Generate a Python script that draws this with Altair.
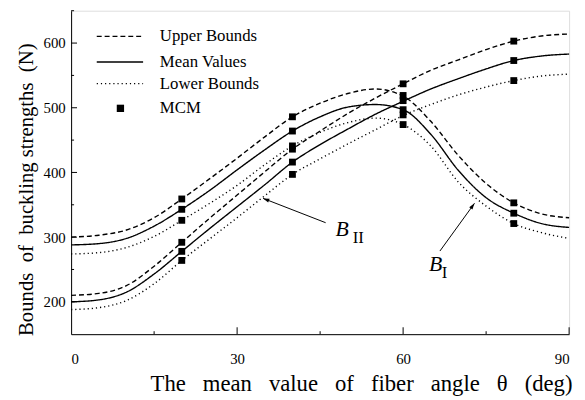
import altair as alt
import pandas as pd

# ---------------- data ----------------
theta = [0, 5, 10, 15, 20, 25, 30, 35, 40, 45, 50, 55, 60, 65, 70, 75, 80, 85, 90]

bI_upper = [300, 303, 311, 330, 359, 390, 422, 455, 486, 507, 522, 529, 518, 479, 426, 383, 353, 336, 330]
bI_mean  = [288, 290, 298, 317, 343, 372, 404, 435, 464, 486, 501, 505, 497, 459, 403, 361, 337, 321, 315]
bI_lower = [274, 276, 284, 301, 326, 352, 380, 412, 441, 462, 477, 484, 474, 441, 385, 348, 321, 307, 298]

bII_upper = [210, 213, 225, 255, 292, 329, 365, 401, 436, 464, 491, 515, 537, 558, 574, 590, 603, 611, 614]
bII_mean  = [200, 203, 215, 243, 278, 313, 347, 381, 416, 443, 467, 490, 510, 529, 545, 560, 573, 580, 583]
bII_lower = [188, 191, 202, 228, 264, 297, 330, 364, 397, 421, 444, 466, 488, 505, 520, 532, 542, 549, 552]

mcm_theta = [20, 40, 60, 80]
mcm_bI_upper = [359, 486, 519, 353]
mcm_bI_mean = [343, 464, 497, 337]
mcm_bI_lower = [326, 441, 474, 321]
mcm_bII_upper = [292, 436, 537, 603]
mcm_bII_mean = [278, 416, 511, 573]
mcm_bII_lower = [264, 397, 489, 542]

y_major = [200, 300, 400, 500, 600]
y_minor = [250, 350, 450, 550, 650]
x_major = [30, 60, 90]
x_minor = [15, 45, 75]

bounds = ["Upper Bounds", "Mean Values", "Lower Bounds"]
legend_labels = ["Upper Bounds", "Mean Values", "Lower Bounds", "MCM"]

# ---------------- tables ----------------
rows = []
for fam, series in [("BI", [bI_upper, bI_mean, bI_lower]), ("BII", [bII_upper, bII_mean, bII_lower])]:
    for b, vals in zip(bounds, series):
        for t, v in zip(theta, vals):
            rows.append({"theta": t, "value": v, "family": fam, "bound": b})
lines_df = pd.DataFrame(rows)

mrows = []
for vals in [mcm_bI_upper, mcm_bI_mean, mcm_bI_lower, mcm_bII_upper, mcm_bII_mean, mcm_bII_lower]:
    for t, v in zip(mcm_theta, vals):
        mrows.append({"theta": t, "value": v})
mcm_df = pd.DataFrame(mrows)

W, H = 505, 328
FONT = "Liberation Serif"
NB = "\u00a0"
xtitle = (" " + NB + NB).join(["The", "mean", "value", "of", "fiber", "angle", "θ", "(deg)"])
ytitle = "Bounds" + NB + " of" + NB + " buckling strengths" + NB + " (N)"

xs = alt.Scale(domain=[0, 90], nice=False, zero=False)
ys = alt.Scale(domain=[150, 650], nice=False, zero=False)

X = alt.X("theta:Q", scale=xs, axis=alt.Axis(
    values=[0, 30, 60, 90], ticks=False, grid=False, domainColor="black", domainWidth=1,
    labelFont=FONT, labelFontSize=15, labelColor="black", labelPadding=18,
    title=xtitle,
    titleFont=FONT, titleFontSize=23, titleFontWeight="normal", titleColor="black",
    titleX=294, titleY=57, titleBaseline="alphabetic", titleAlign="center"))
Y = alt.Y("value:Q", scale=ys, axis=alt.Axis(
    values=y_major, ticks=False, grid=False, domainColor="black", domainWidth=1,
    labelFont=FONT, labelFontSize=15, labelColor="black", labelPadding=6,
    title=ytitle,
    titleFont=FONT, titleFontSize=21, titleFontWeight="normal", titleColor="black",
    titleX=-39, titleY=181, titleAngle=270, titleBaseline="alphabetic", titleAlign="center"))

lines = alt.Chart(lines_df).mark_line(color="black", interpolate="monotone").encode(
    x=X, y=Y,
    detail="family:N",
    strokeDash=alt.StrokeDash("bound:N", scale=alt.Scale(domain=bounds, range=[[5, 3], [1, 0], [1.2, 3]]), legend=None),
    strokeWidth=alt.StrokeWidth("bound:N", scale=alt.Scale(domain=bounds, range=[1.4, 1.4, 1.3]), legend=None),
)

markers = alt.Chart(mcm_df).mark_square(color="black", size=48, opacity=1).encode(
    x=alt.X("theta:Q", scale=xs), y=alt.Y("value:Q", scale=ys))

# inward ticks
ymaj = alt.Chart(pd.DataFrame({"v": y_major})).mark_rule(color="black").encode(
    y=alt.Y("v:Q", scale=ys), x=alt.value(0), x2=alt.value(6))
ymin = alt.Chart(pd.DataFrame({"v": y_minor})).mark_rule(color="black").encode(
    y=alt.Y("v:Q", scale=ys), x=alt.value(0), x2=alt.value(3))
xmaj = alt.Chart(pd.DataFrame({"v": x_major})).mark_rule(color="black").encode(
    x=alt.X("v:Q", scale=xs), y=alt.value(H), y2=alt.value(H - 7))
xmin = alt.Chart(pd.DataFrame({"v": x_minor})).mark_rule(color="black").encode(
    x=alt.X("v:Q", scale=xs), y=alt.value(H), y2=alt.value(H - 3))

# arrows and labels
arrow_df = pd.DataFrame({
    "x": [46.0, 66.65], "y": [322.3, 278.5],
    "x2": [34.7, 72.9], "y2": [359.9, 352.3],
    "ang": [291.6, 35.9],
})
arrow_lines = alt.Chart(arrow_df).mark_rule(color="black", strokeWidth=1).encode(
    x=alt.X("x:Q", scale=xs), y=alt.Y("y:Q", scale=ys),
    x2="x2:Q", y2="y2:Q")
arrow_heads = alt.Chart(arrow_df).mark_point(
    shape="M0,0L0.32,1L-0.32,1Z", filled=True, color="black", size=160, opacity=1).encode(
    x=alt.X("x2:Q", scale=xs), y=alt.Y("y2:Q", scale=ys), angle=alt.Angle("ang:Q", scale=None))

b_df = pd.DataFrame({"x": [47.8, 64.7], "y": [301.4, 248.0], "t": ["B", "B"]})
sub_df = pd.DataFrame({"x": [50.9, 67.0], "y": [291.5, 236.4], "t": ["II", "I"]})
b_text = alt.Chart(b_df).mark_text(font=FONT, fontSize=22, fontStyle="italic", align="left",
                                   baseline="alphabetic", color="black").encode(
    x=alt.X("x:Q", scale=xs), y=alt.Y("y:Q", scale=ys), text="t:N")
sub_text = alt.Chart(sub_df).mark_text(font=FONT, fontSize=17, align="left",
                                       baseline="alphabetic", color="black").encode(
    x=alt.X("x:Q", scale=xs), y=alt.Y("y:Q", scale=ys), text="t:N")

# custom legend (pixel positions inside plot)
leg_y = [26, 52, 74, 99]
leg = []
leg.append(alt.Chart().mark_rule(color="black", strokeWidth=1.4, strokeDash=[5, 3]).encode(
    x=alt.value(26), x2=alt.value(73), y=alt.value(leg_y[0])))
leg.append(alt.Chart().mark_rule(color="black", strokeWidth=1.4).encode(
    x=alt.value(26), x2=alt.value(73), y=alt.value(leg_y[1])))
leg.append(alt.Chart().mark_rule(color="black", strokeWidth=1.3, strokeDash=[1.2, 3]).encode(
    x=alt.value(26), x2=alt.value(73), y=alt.value(leg_y[2])))
leg.append(alt.Chart().mark_square(color="black", size=55, opacity=1).encode(
    x=alt.value(50), y=alt.value(leg_y[3])))
for lab, yy in zip(legend_labels, leg_y):
    leg.append(alt.Chart().mark_text(font=FONT, fontSize=17, align="left", baseline="middle",
                                     color="black", text=lab).encode(
        x=alt.value(90), y=alt.value(yy)))

chart = alt.layer(
    lines, markers, ymaj, ymin, xmaj, xmin, arrow_lines, arrow_heads, b_text, sub_text, *leg
).properties(
    width=W, height=H,
    autosize=alt.AutoSizeParams(type="none"),
    padding={"left": 64, "top": 0, "right": 8, "bottom": 64},
).configure_view(stroke=None).configure(background="white")

chart.save("out.html", embed_options={"renderer": "svg", "actions": False})
